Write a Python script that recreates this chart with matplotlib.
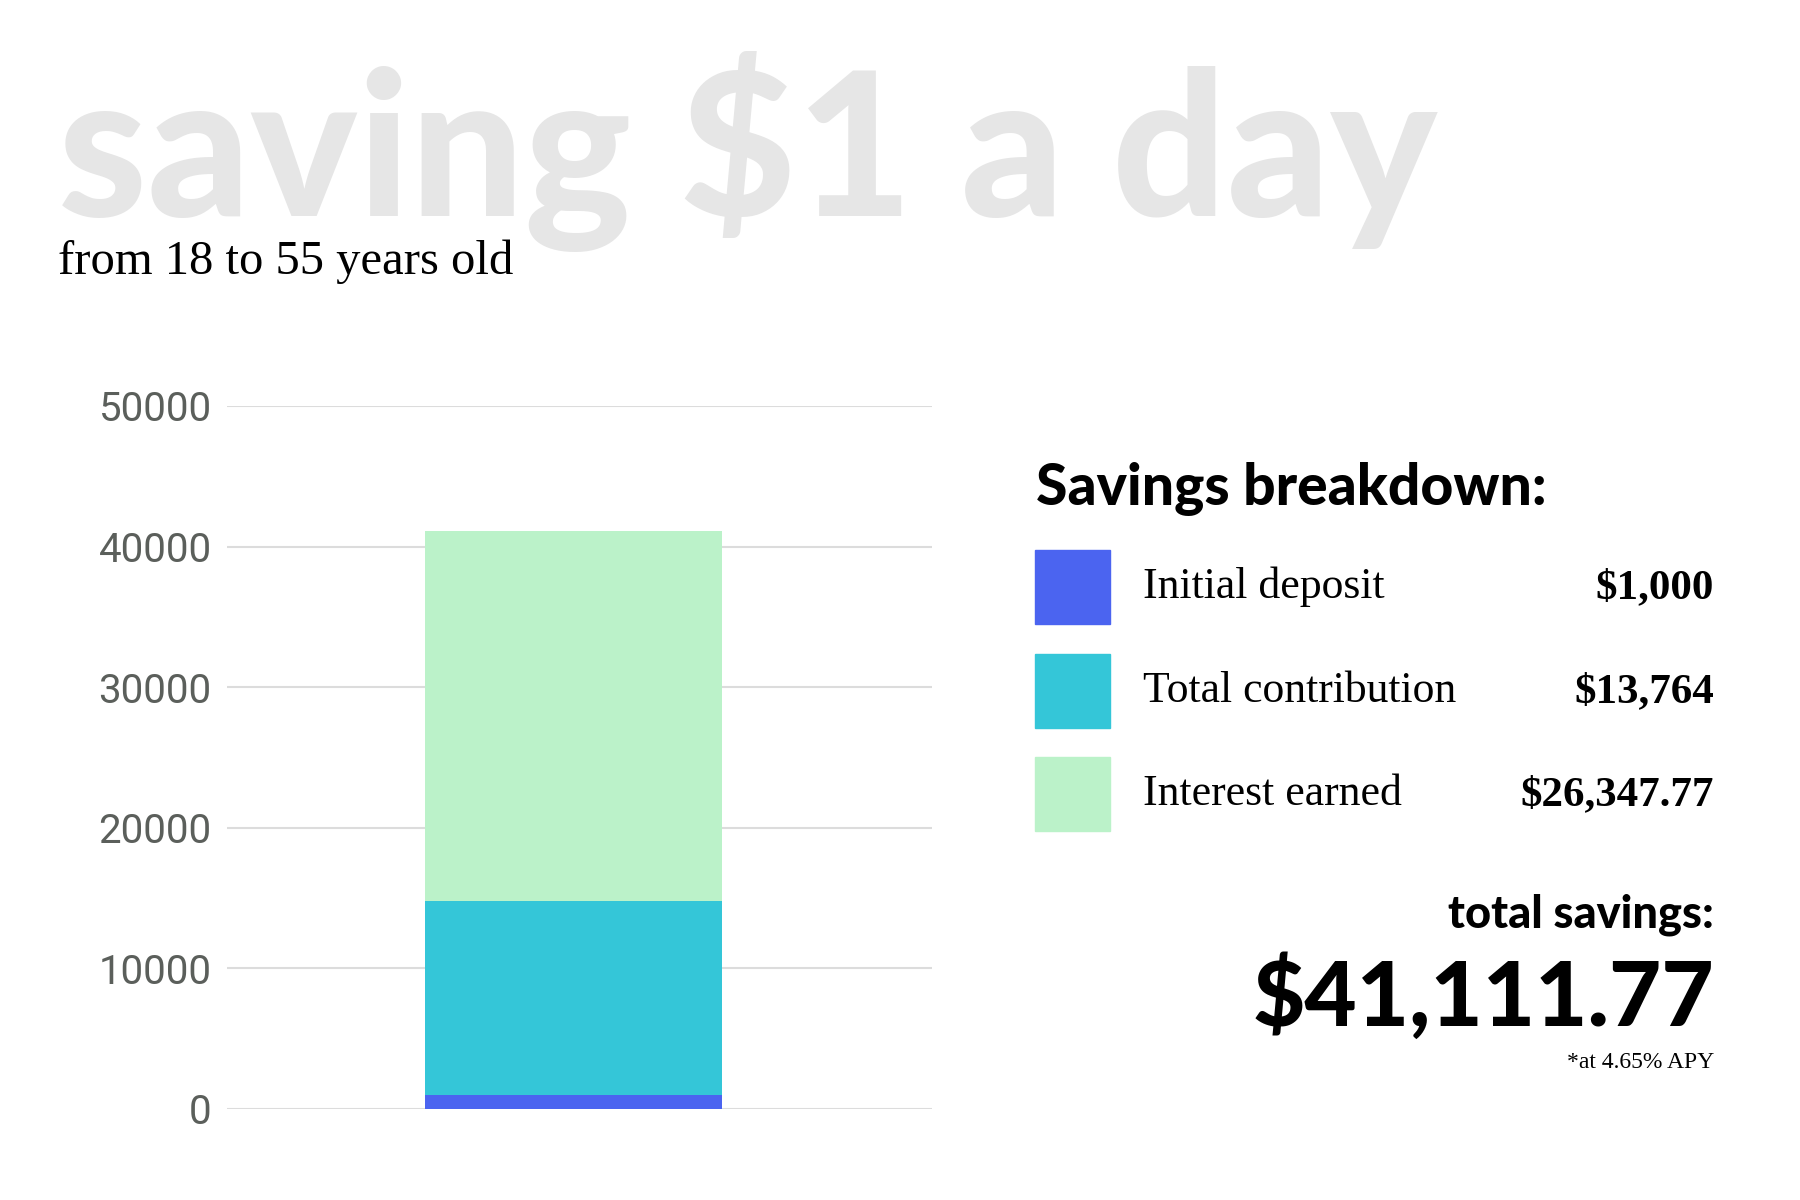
import numpy as np
import matplotlib
matplotlib.use("Agg")
import matplotlib.pyplot as plt

# data
segments = ["Initial deposit", "Total contribution", "Interest earned"]
amounts = [1000, 13764, 26347.77]
amount_labels = ["$1,000", "$13,764", "$26,347.77"]
colors = ["#4b64f0", "#34c6d8", "#bbf2c9"]
yticks = [0, 10000, 20000, 30000, 40000, 50000]
total_label = "$41,111.77"

W, H = 1800, 1200
fig = plt.figure(figsize=(18, 12), dpi=100)
fig.patch.set_facecolor("white")

def fx(x):
    return x / W

def fy(y):
    return 1 - y / H

sans_heavy = dict(family=["Lato", "DejaVu Sans"], fontweight="black")
serif = dict(family=["Liberation Serif", "DejaVu Serif"])

# title + subtitle
fig.text(fx(58), fy(216), "saving $1 a day", fontsize=145, color="#e6e6e6",
         va="baseline", ha="left", **sans_heavy)
fig.text(fx(58), fy(274), "from 18 to 55 years old", fontsize=35, color="black",
         va="baseline", ha="left", **serif)

# stacked bar
ax = fig.add_axes([fx(227), fy(1109), fx(932) - fx(227), fy(406) - fy(1109)])
bottom = 0
for amt, c in zip(amounts, colors):
    ax.bar(0, amt, width=0.421, bottom=bottom, color=c, zorder=3)
    bottom += amt
ax.set_xlim(-0.4915, 0.5085)
ax.set_ylim(0, 50000)
ax.set_yticks(yticks)
ax.set_yticklabels([str(t) for t in yticks], fontsize=29, color="#5b5f5b",
                   family=["Roboto", "DejaVu Sans"])
ax.tick_params(axis="y", length=0, pad=11)
ax.set_xticks([])
ax.grid(axis="y", color="#dcdcdc", linewidth=1.5, zorder=0)
for s in ax.spines.values():
    s.set_visible(False)
ax.patch.set_alpha(0)

# legend panel
fig.text(fx(1036), fy(505), "Savings breakdown:", fontsize=41, color="black",
         va="baseline", ha="left", **sans_heavy)
row_y = [587, 691, 794]
for lab, val, c, yc in zip(segments, amount_labels, colors, row_y):
    fig.patches.append(plt.Rectangle((fx(1035), fy(yc + 37)), fx(75), 74 / H,
                                     transform=fig.transFigure, color=c))
    fig.text(fx(1143), fy(yc + 11), lab, fontsize=31.5, color="black",
             va="baseline", ha="left", **serif)
    fig.text(fx(1714), fy(yc + 11), val, fontsize=31, color="black", fontweight="bold",
             va="baseline", ha="right", **serif)

fig.text(fx(1714), fy(928), "total savings:", fontsize=32.5, color="black",
         va="baseline", ha="right", **sans_heavy)
fig.text(fx(1714), fy(1026), total_label, fontsize=65, color="black",
         va="baseline", ha="right", **sans_heavy)
fig.text(fx(1714), fy(1068), "*at 4.65% APY", fontsize=17, color="black",
         va="baseline", ha="right", **serif)

fig.savefig("out.png", dpi=100, facecolor="white")
